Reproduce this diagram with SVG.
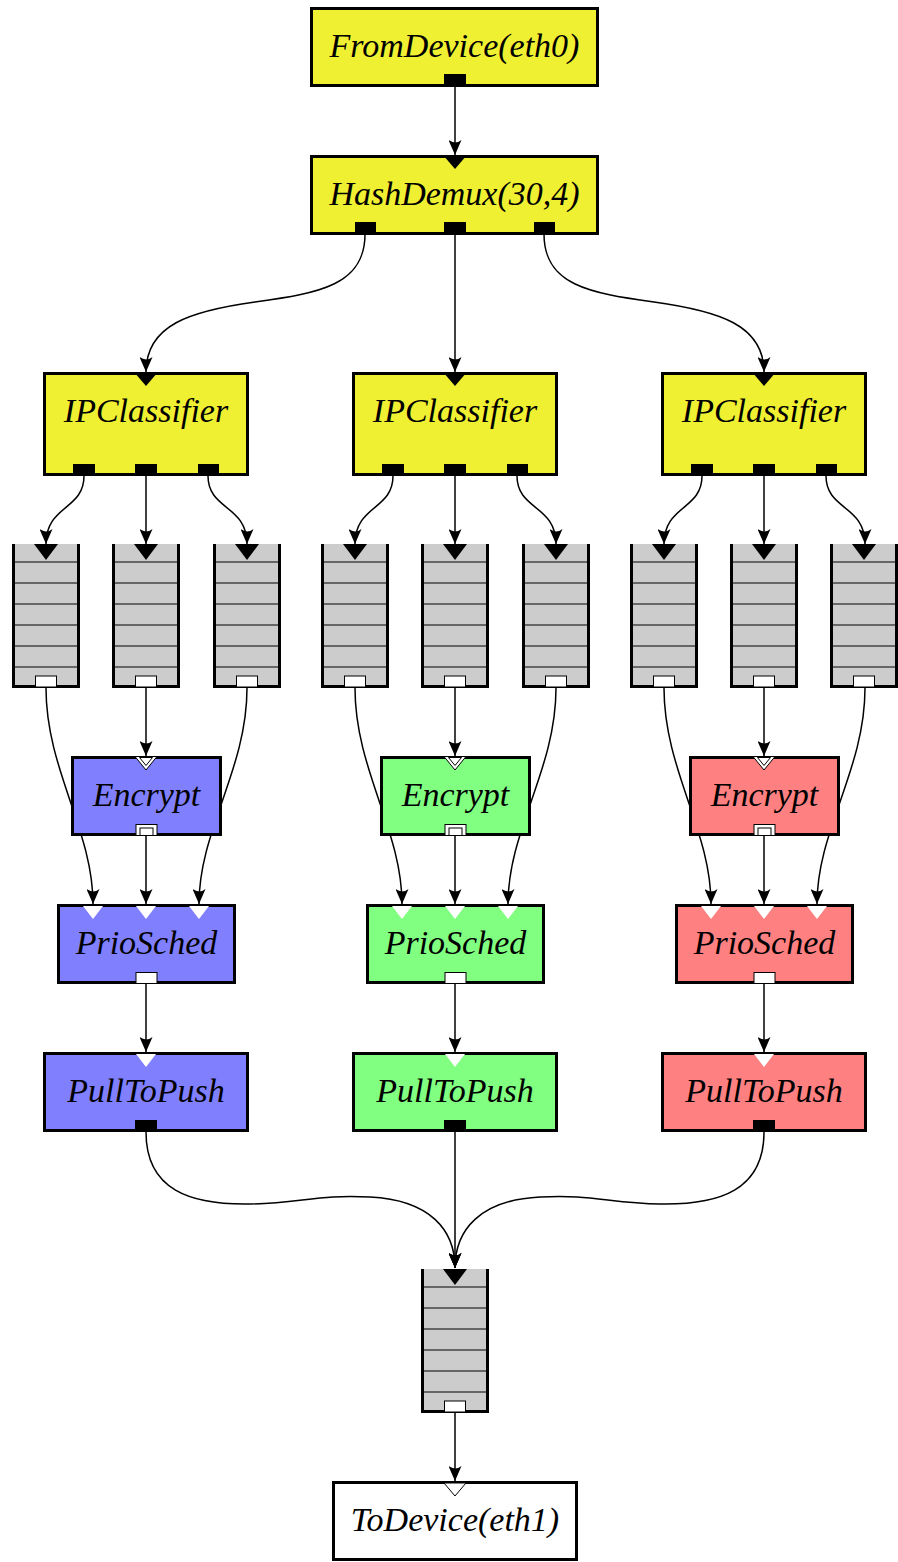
<svg xmlns="http://www.w3.org/2000/svg" xmlns:xlink="http://www.w3.org/1999/xlink" width="898" height="1562" viewBox="0 0 898 1562">
<style>
.box{stroke:#000;stroke-width:3}
.yel{fill:#f0f032}
.blu{fill:#8080ff}
.grn{fill:#80ff80}
.red{fill:#ff8080}
.wht{fill:#fff}
.lbl{font-family:"Liberation Serif","Times New Roman","DejaVu Serif",serif;font-style:italic;font-size:34px;text-anchor:middle;fill:#000}
.blk{fill:#000}
.wport{fill:#fff;stroke:#000;stroke-width:1}
.wtri{fill:#fff}
.edge{fill:none;stroke:#000;stroke-width:1.5;marker-end:url(#ah)}
.qfill{fill:#cccccc}
.qline{stroke:#000;stroke-width:1.2;fill:none}
.qside{stroke:#000;stroke-width:3;fill:none}
</style>
<defs>
<marker id="ah" markerUnits="userSpaceOnUse" markerWidth="15" markerHeight="13" viewBox="0 0 15 13" refX="15" refY="6.5" orient="auto">
<path d="M15,6.5 L0,0 Q5,6.5 0,13 Z" fill="#000"/>
</marker>
<g id="queueShape">
<rect x="-32.5" y="0" width="65" height="142.5" class="qfill"/>
<path d="M-32.5,18H32.5M-32.5,39H32.5M-32.5,60H32.5M-32.5,81H32.5M-32.5,102H32.5M-32.5,123H32.5" class="qline"/>
<path d="M-32.5,0V142.5H32.5V0" class="qside"/>
<polygon points="-12,0 12,0 0,16" class="blk"/>
<rect x="-10.5" y="132" width="21" height="11" class="wport"/>
</g>
</defs>
<rect width="898" height="1562" fill="#fff"/>

<g id="connectors">
<path class="edge" d="M455,86 V155"/>
<path class="edge" d="M365,234 C365,285 320,293 255,302 C190,311 146,325 146,372"/>
<path class="edge" d="M455,234 V372"/>
<path class="edge" d="M544,234 C544,285 589,293 654,302 C719,311 764,325 764,372"/>
<g id="col1edges">
<path class="edge" d="M84,476 C84,510 46,505 46,544"/>
<path class="edge" d="M146,476 V544"/>
<path class="edge" d="M208,476 C208,510 247,505 247,544"/>
<path class="edge" d="M46,688 C46,770 93,830 93,904"/>
<path class="edge" d="M146,688 V756"/>
<path class="edge" d="M247,688 C247,770 199,830 199,904"/>
<path class="edge" d="M146,836 V904"/>
<path class="edge" d="M146,984 V1052"/>
</g>
<use xlink:href="#col1edges" href="#col1edges" x="309" y="0"/>
<use xlink:href="#col1edges" href="#col1edges" x="618" y="0"/>
<path class="edge" d="M146,1132 C146,1190 190,1205 250,1204 C300,1203 320,1194 370,1197 C430,1200 455,1230 455,1268"/>
<path class="edge" d="M455,1132 V1268"/>
<path class="edge" d="M764,1132 C764,1190 720,1205 660,1204 C610,1203 590,1194 540,1197 C480,1200 455,1230 455,1268"/>
<path class="edge" d="M455,1413 V1481"/>
</g>

<g id="fromdevice">
<rect class="box yel" x="311.5" y="8.5" width="286" height="77"/>
<text class="lbl" x="454.5" y="57">FromDevice(eth0)</text>
<rect class="blk" x="444" y="74" width="22" height="12"/>
</g>

<g id="hashdemux">
<rect class="box yel" x="311.5" y="156.5" width="286" height="77"/>
<text class="lbl" x="454.5" y="205">HashDemux(30,4)</text>
<polygon class="blk" points="443,155 467,155 455,169"/>
<rect class="blk" x="355" y="222" width="21" height="12"/>
<rect class="blk" x="444" y="222" width="22" height="12"/>
<rect class="blk" x="534" y="222" width="21" height="12"/>
</g>

<g id="ipclassifier1">
<rect class="box yel" x="44.5" y="373.5" width="203" height="101"/>
<text class="lbl" x="146" y="422">IPClassifier</text>
<polygon class="blk" points="134,372 158,372 146,386"/>
<rect class="blk" x="73" y="464" width="22" height="12"/>
<rect class="blk" x="135" y="464" width="22" height="12"/>
<rect class="blk" x="198" y="464" width="21" height="12"/>
</g>
<g id="ipclassifier2">
<rect class="box yel" x="353.5" y="373.5" width="203" height="101"/>
<text class="lbl" x="455" y="422">IPClassifier</text>
<polygon class="blk" points="443,372 467,372 455,386"/>
<rect class="blk" x="382" y="464" width="22" height="12"/>
<rect class="blk" x="444" y="464" width="22" height="12"/>
<rect class="blk" x="507" y="464" width="21" height="12"/>
</g>
<g id="ipclassifier3">
<rect class="box yel" x="662.5" y="373.5" width="203" height="101"/>
<text class="lbl" x="764" y="422">IPClassifier</text>
<polygon class="blk" points="752,372 776,372 764,386"/>
<rect class="blk" x="691" y="464" width="22" height="12"/>
<rect class="blk" x="753" y="464" width="22" height="12"/>
<rect class="blk" x="816" y="464" width="21" height="12"/>
</g>

<g id="queue1a"><use xlink:href="#queueShape" href="#queueShape" x="46" y="544"/></g>
<g id="queue1b"><use xlink:href="#queueShape" href="#queueShape" x="146" y="544"/></g>
<g id="queue1c"><use xlink:href="#queueShape" href="#queueShape" x="247" y="544"/></g>
<g id="queue2a"><use xlink:href="#queueShape" href="#queueShape" x="355" y="544"/></g>
<g id="queue2b"><use xlink:href="#queueShape" href="#queueShape" x="455" y="544"/></g>
<g id="queue2c"><use xlink:href="#queueShape" href="#queueShape" x="556" y="544"/></g>
<g id="queue3a"><use xlink:href="#queueShape" href="#queueShape" x="664" y="544"/></g>
<g id="queue3b"><use xlink:href="#queueShape" href="#queueShape" x="764" y="544"/></g>
<g id="queue3c"><use xlink:href="#queueShape" href="#queueShape" x="864" y="544"/></g>

<g id="encrypt1">
<rect class="box blu" x="72.5" y="757.5" width="148" height="77"/>
<text class="lbl" x="146.5" y="806">Encrypt</text>
<polygon class="wport" points="135,756.5 157,756.5 146,770"/>
<polygon class="wport" points="139.5,757.5 152.5,757.5 146,765.5"/>
<rect class="wport" x="136" y="824.5" width="21" height="11"/>
<rect class="wport" x="140" y="828" width="13" height="7.5"/>
</g>
<g id="encrypt2">
<rect class="box grn" x="381.5" y="757.5" width="148" height="77"/>
<text class="lbl" x="455.5" y="806">Encrypt</text>
<polygon class="wport" points="444,756.5 466,756.5 455,770"/>
<polygon class="wport" points="448.5,757.5 461.5,757.5 455,765.5"/>
<rect class="wport" x="445" y="824.5" width="21" height="11"/>
<rect class="wport" x="449" y="828" width="13" height="7.5"/>
</g>
<g id="encrypt3">
<rect class="box red" x="690.5" y="757.5" width="148" height="77"/>
<text class="lbl" x="764.5" y="806">Encrypt</text>
<polygon class="wport" points="753,756.5 775,756.5 764,770"/>
<polygon class="wport" points="757.5,757.5 770.5,757.5 764,765.5"/>
<rect class="wport" x="754" y="824.5" width="21" height="11"/>
<rect class="wport" x="758" y="828" width="13" height="7.5"/>
</g>

<g id="priosched1">
<rect class="box blu" x="58.5" y="905.5" width="176" height="77"/>
<text class="lbl" x="146.5" y="954">PrioSched</text>
<polygon class="wtri" points="83,906 103,906 93,919"/>
<polygon class="wtri" points="136,906 156,906 146,919"/>
<polygon class="wtri" points="189,906 209,906 199,919"/>
<rect class="wport" x="136" y="972.5" width="21" height="11"/>
</g>
<g id="priosched2">
<rect class="box grn" x="367.5" y="905.5" width="176" height="77"/>
<text class="lbl" x="455.5" y="954">PrioSched</text>
<polygon class="wtri" points="392,906 412,906 402,919"/>
<polygon class="wtri" points="445,906 465,906 455,919"/>
<polygon class="wtri" points="498,906 518,906 508,919"/>
<rect class="wport" x="445" y="972.5" width="21" height="11"/>
</g>
<g id="priosched3">
<rect class="box red" x="676.5" y="905.5" width="176" height="77"/>
<text class="lbl" x="764.5" y="954">PrioSched</text>
<polygon class="wtri" points="701,906 721,906 711,919"/>
<polygon class="wtri" points="754,906 774,906 764,919"/>
<polygon class="wtri" points="807,906 827,906 817,919"/>
<rect class="wport" x="754" y="972.5" width="21" height="11"/>
</g>

<g id="pulltopush1">
<rect class="box blu" x="44.5" y="1053.5" width="203" height="77"/>
<text class="lbl" x="146" y="1102">PullToPush</text>
<polygon class="wtri" points="136,1054 156,1054 146,1067"/>
<rect class="blk" x="135" y="1120" width="22" height="12"/>
</g>
<g id="pulltopush2">
<rect class="box grn" x="353.5" y="1053.5" width="203" height="77"/>
<text class="lbl" x="455" y="1102">PullToPush</text>
<polygon class="wtri" points="445,1054 465,1054 455,1067"/>
<rect class="blk" x="444" y="1120" width="22" height="12"/>
</g>
<g id="pulltopush3">
<rect class="box red" x="662.5" y="1053.5" width="203" height="77"/>
<text class="lbl" x="764" y="1102">PullToPush</text>
<polygon class="wtri" points="754,1054 774,1054 764,1067"/>
<rect class="blk" x="753" y="1120" width="22" height="12"/>
</g>

<g id="queue4"><use xlink:href="#queueShape" href="#queueShape" x="455" y="1269"/></g>

<g id="todevice">
<rect class="box wht" x="333.5" y="1482.5" width="243" height="77"/>
<text class="lbl" x="455" y="1531">ToDevice(eth1)</text>
<polygon class="wport" points="444,1483 466,1483 455,1496"/>
</g>
</svg>
